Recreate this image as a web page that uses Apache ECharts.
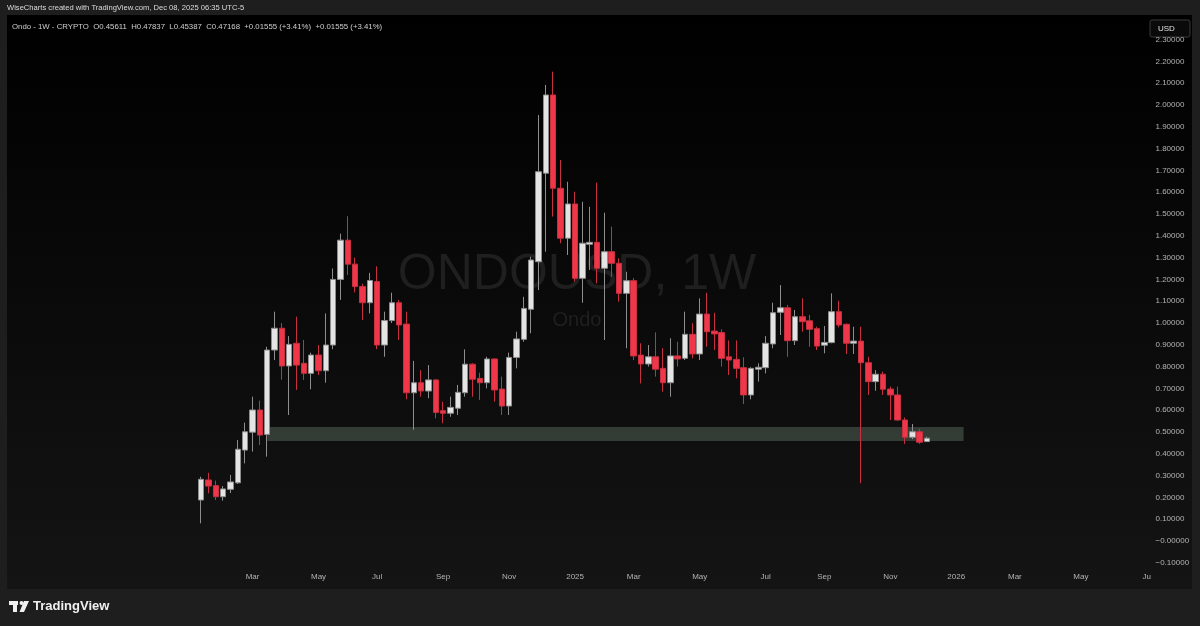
<!DOCTYPE html>
<html>
<head>
<meta charset="utf-8">
<title>ONDOUSD 1W</title>
<script src="https://cdn.jsdelivr.net/npm/echarts@6/dist/echarts.min.js"></script>
<style>
  html, body { margin: 0; padding: 0; background: #1e1e1e; }
  #chart { width: 1200px; height: 626px; }
</style>
</head>
<body>
<div id="chart"></div>
<script>
// weekly candles, first bar = week of 2024-01-15
const firstWeek = '2024-01-15'
const padBefore = 26
const padAfter = 30

const opens = [
  0.188, 0.280, 0.254, 0.203, 0.237, 0.267, 0.417, 0.499, 0.601, 0.489,
  0.876, 0.976, 0.803, 0.907, 0.815, 0.769, 0.853, 0.781, 0.899, 1.200,
  1.380, 1.270, 1.167, 1.093, 1.190, 0.899, 1.011, 1.093, 0.995, 0.680,
  0.726, 0.688, 0.739, 0.598, 0.586, 0.609, 0.680, 0.811, 0.746, 0.726,
  0.835, 0.697, 0.619, 0.842, 0.925, 1.063, 1.281, 1.687, 2.046, 1.618,
  1.389, 1.546, 1.205, 1.361, 1.370, 1.251, 1.327, 1.274, 1.136, 1.194,
  0.853, 0.812, 0.845, 0.792, 0.726, 0.849, 0.838, 0.948, 0.858, 1.041,
  0.963, 0.956, 0.845, 0.833, 0.795, 0.670, 0.788, 0.795, 0.904, 1.049,
  1.070, 0.919, 1.029, 1.010, 0.974, 0.898, 0.910, 1.052, 0.994, 0.907,
  0.917, 0.818, 0.731, 0.765, 0.697, 0.670, 0.555, 0.476, 0.501, 0.45611
]
const closes = [
  0.283, 0.252, 0.203, 0.239, 0.271, 0.421, 0.501, 0.601, 0.486, 0.876,
  0.976, 0.803, 0.902, 0.807, 0.769, 0.853, 0.781, 0.899, 1.200, 1.380,
  1.270, 1.167, 1.093, 1.195, 0.899, 1.011, 1.093, 0.991, 0.680, 0.726,
  0.688, 0.739, 0.590, 0.586, 0.613, 0.682, 0.811, 0.742, 0.726, 0.835,
  0.693, 0.619, 0.842, 0.927, 1.067, 1.289, 1.694, 2.046, 1.618, 1.389,
  1.546, 1.205, 1.366, 1.370, 1.251, 1.327, 1.274, 1.136, 1.194, 0.849,
  0.812, 0.845, 0.788, 0.726, 0.849, 0.835, 0.948, 0.858, 1.041, 0.960,
  0.950, 0.838, 0.830, 0.792, 0.670, 0.792, 0.797, 0.907, 1.047, 1.070,
  0.919, 1.029, 1.006, 0.971, 0.894, 0.911, 1.052, 0.991, 0.907, 0.917,
  0.818, 0.731, 0.765, 0.696, 0.670, 0.555, 0.476, 0.501, 0.453, 0.47168
]
const lows = [
  0.081, 0.219, 0.188, 0.185, 0.220, 0.262, 0.356, 0.410, 0.440, 0.387,
  0.830, 0.740, 0.578, 0.693, 0.739, 0.696, 0.761, 0.726, 0.880, 1.106,
  1.220, 1.140, 1.014, 1.044, 0.880, 0.845, 1.000, 0.922, 0.650, 0.510,
  0.662, 0.655, 0.563, 0.540, 0.570, 0.578, 0.662, 0.662, 0.647, 0.700,
  0.639, 0.578, 0.578, 0.792, 0.914, 0.953, 1.151, 1.327, 1.488, 1.366,
  1.312, 1.190, 1.093, 1.243, 1.182, 0.922, 1.212, 1.098, 0.884, 0.830,
  0.723, 0.800, 0.754, 0.685, 0.662, 0.800, 0.830, 0.838, 0.830, 0.891,
  0.876, 0.800, 0.761, 0.746, 0.628, 0.650, 0.731, 0.769, 0.884, 0.945,
  0.845, 0.899, 0.960, 0.891, 0.876, 0.861, 0.907, 0.980, 0.858, 0.858,
  0.265, 0.670, 0.689, 0.670, 0.555, 0.551, 0.445, 0.467, 0.445, 0.45387
]
const highs = [
  0.295, 0.313, 0.277, 0.252, 0.303, 0.463, 0.543, 0.662, 0.644, 0.891,
  1.052, 1.000, 0.940, 1.029, 0.922, 0.864, 0.899, 1.044, 1.250, 1.410,
  1.490, 1.300, 1.180, 1.230, 1.260, 1.052, 1.139, 1.106, 1.052, 0.826,
  0.784, 0.807, 0.742, 0.639, 0.662, 0.716, 0.879, 0.815, 0.772, 0.845,
  0.838, 0.754, 0.864, 0.960, 1.120, 1.304, 1.954, 2.092, 2.153, 1.748,
  1.648, 1.602, 1.556, 1.533, 1.644, 1.506, 1.442, 1.297, 1.235, 1.206,
  0.907, 0.899, 0.957, 0.884, 0.930, 0.914, 1.052, 0.999, 1.113, 1.139,
  1.047, 0.971, 0.920, 0.920, 0.843, 0.797, 0.815, 0.940, 1.093, 1.174,
  1.083, 1.060, 1.113, 1.037, 0.983, 0.986, 1.136, 1.102, 0.998, 0.983,
  0.983, 0.845, 0.784, 0.777, 0.708, 0.708, 0.567, 0.537, 0.515, 0.47837
]

// time axis ticks (first weekly bar of the month)
const tickWeeks = [
  '2024-03-04', '2024-05-06', '2024-07-01', '2024-09-02', '2024-11-04',
  '2025-01-06', '2025-03-03', '2025-05-05', '2025-07-07', '2025-09-01',
  '2025-11-03', '2026-01-05', '2026-03-02', '2026-05-04', '2026-07-06'
]
const tickLabels = [
  'Mar', 'May', 'Jul', 'Sep', 'Nov', '2025', 'Mar', 'May', 'Jul', 'Sep',
  'Nov', '2026', 'Mar', 'May', 'Ju'
]

// support zone
const zoneFrom = '2024-03-18'
const zoneTo = '2026-01-12'
const zoneLow = 0.459
const zoneHigh = 0.523

const lastClose = closes[closes.length - 1]

const dayMs = 86400000
const start = Date.parse(firstWeek + 'T00:00:00Z')
const weeks = []
for (let i = -padBefore; i < opens.length + padAfter; i++) {
  weeks.push(new Date(start + i * 7 * dayMs).toISOString().slice(0, 10))
}
const candles = weeks.map((w, k) => {
  const i = k - padBefore
  if (i < 0 || i >= opens.length) return '-'
  return [opens[i], closes[i], lows[i], highs[i]]
})

const fmtPrice = v => {
  if (Math.abs(v) < 1e-9) return '\u22120.00000'
  return (v < 0 ? '\u2212' : '') + Math.abs(v).toFixed(5)
}

const chart = echarts.init(document.getElementById('chart'))

const option = {
  backgroundColor: '#1e1e1e',
  animation: false,
  textStyle: { fontFamily: 'Liberation Sans, Arial, sans-serif' },
  graphic: [
    {
      type: 'rect', z: -10,
      shape: { x: 7, y: 15, width: 1185, height: 574 },
      style: {
        fill: new echarts.graphic.LinearGradient(0, 0, 0, 1, [
          { offset: 0, color: '#000000' },
          { offset: 1, color: '#141414' }
        ])
      }
    },
    {
      type: 'text', z: -5,
      style: { text: 'ONDOUSD, 1W', x: 577, y: 275, align: 'center', verticalAlign: 'middle',
        font: '50px Liberation Sans, Arial, sans-serif', fill: '#1f1f1f' }
    },
    {
      type: 'text', z: -5,
      style: { text: 'Ondo', x: 577, y: 320, align: 'center', verticalAlign: 'middle',
        font: '20px Liberation Sans, Arial, sans-serif', fill: '#1f1f1f' }
    },
    {
      type: 'text',
      style: { text: 'WiseCharts created with TradingView.com, Dec 08, 2025 06:35 UTC-5', x: 7, y: 8,
        verticalAlign: 'middle', font: '7.6px Liberation Sans, Arial, sans-serif', fill: '#dcdcdc' }
    },
    {
      type: 'text',
      style: { text: 'Ondo - 1W - CRYPTO  O0.45611  H0.47837  L0.45387  C0.47168  +0.01555 (+3.41%)  +0.01555 (+3.41%)',
        x: 12, y: 27, verticalAlign: 'middle', font: '7.8px Liberation Sans, Arial, sans-serif', fill: '#cfcfcf' }
    },
    {
      type: 'rect',
      shape: { x: 1150, y: 20, width: 40, height: 17, r: 2 },
      style: { fill: '#0a0a0a', stroke: '#3a3a3a', lineWidth: 1 }
    },
    {
      type: 'text',
      style: { text: 'USD', x: 1158, y: 29, verticalAlign: 'middle',
        font: '8px Liberation Sans, Arial, sans-serif', fill: '#e0e0e0' }
    },
    // TradingView logo
    { type: 'rect', shape: { x: 9, y: 601, width: 9, height: 4 }, style: { fill: '#f0f0f0' } },
    { type: 'rect', shape: { x: 13, y: 601, width: 4, height: 11 }, style: { fill: '#f0f0f0' } },
    { type: 'circle', shape: { cx: 21.5, cy: 603, r: 2 }, style: { fill: '#f0f0f0' } },
    { type: 'polygon', shape: { points: [[24, 601], [29, 601], [24, 612], [19.5, 612]] }, style: { fill: '#f0f0f0' } },
    {
      type: 'text',
      style: { text: 'TradingView', x: 33, y: 606.5, verticalAlign: 'middle',
        font: 'bold 13px Liberation Sans, Arial, sans-serif', fill: '#f0f0f0' }
    }
  ],
  grid: { left: 7, top: 17.8, width: 1143.5, height: 545 },
  xAxis: {
    type: 'category',
    data: weeks,
    boundaryGap: true,
    axisLine: { show: false },
    axisTick: { show: false },
    splitLine: { show: false },
    axisLabel: {
      color: '#b4b4b4',
      fontSize: 8,
      margin: 10,
      interval: (index, value) => tickWeeks.indexOf(value) >= 0,
      formatter: value => {
        const k = tickWeeks.indexOf(value)
        return k >= 0 ? tickLabels[k] : ''
      }
    }
  },
  yAxis: {
    type: 'value',
    position: 'right',
    min: -0.1,
    max: 2.4,
    interval: 0.1,
    axisLine: { show: false },
    axisTick: { show: false },
    splitLine: { show: false },
    axisLabel: {
      color: '#b4b4b4',
      fontSize: 8,
      margin: 5,
      showMaxLabel: false,
      formatter: v => (v > 2.35 ? '' : fmtPrice(v))
    }
  },
  series: [
    {
      type: 'candlestick',
      data: candles,
      barWidth: 6,
      itemStyle: {
        color: '#e4e4e4',
        color0: '#f0374a',
        borderColor: '#8e8e8e',
        borderColor0: '#c8303f',
        borderWidth: 1
      },
      markArea: {
        silent: true,
        itemStyle: { color: 'rgba(95, 115, 100, 0.45)' },
        data: [[{ xAxis: zoneFrom, yAxis: zoneHigh }, { xAxis: zoneTo, yAxis: zoneLow }]]
      },
      markLine: {
        silent: true,
        symbol: 'none',
        lineStyle: { opacity: 0 },
        label: {
          position: 'end',
          distance: -2,
          formatter: () => lastClose.toFixed(5),
          backgroundColor: '#e6e6e6',
          color: '#2a2a2a',
          fontSize: 8,
          padding: [2, 4, 2, 4],
          borderRadius: 1
        },
        data: [{ yAxis: lastClose }]
      }
    }
  ]
}

chart.setOption(option)
window.addEventListener('resize', () => chart.resize())
</script>
</body>
</html>
